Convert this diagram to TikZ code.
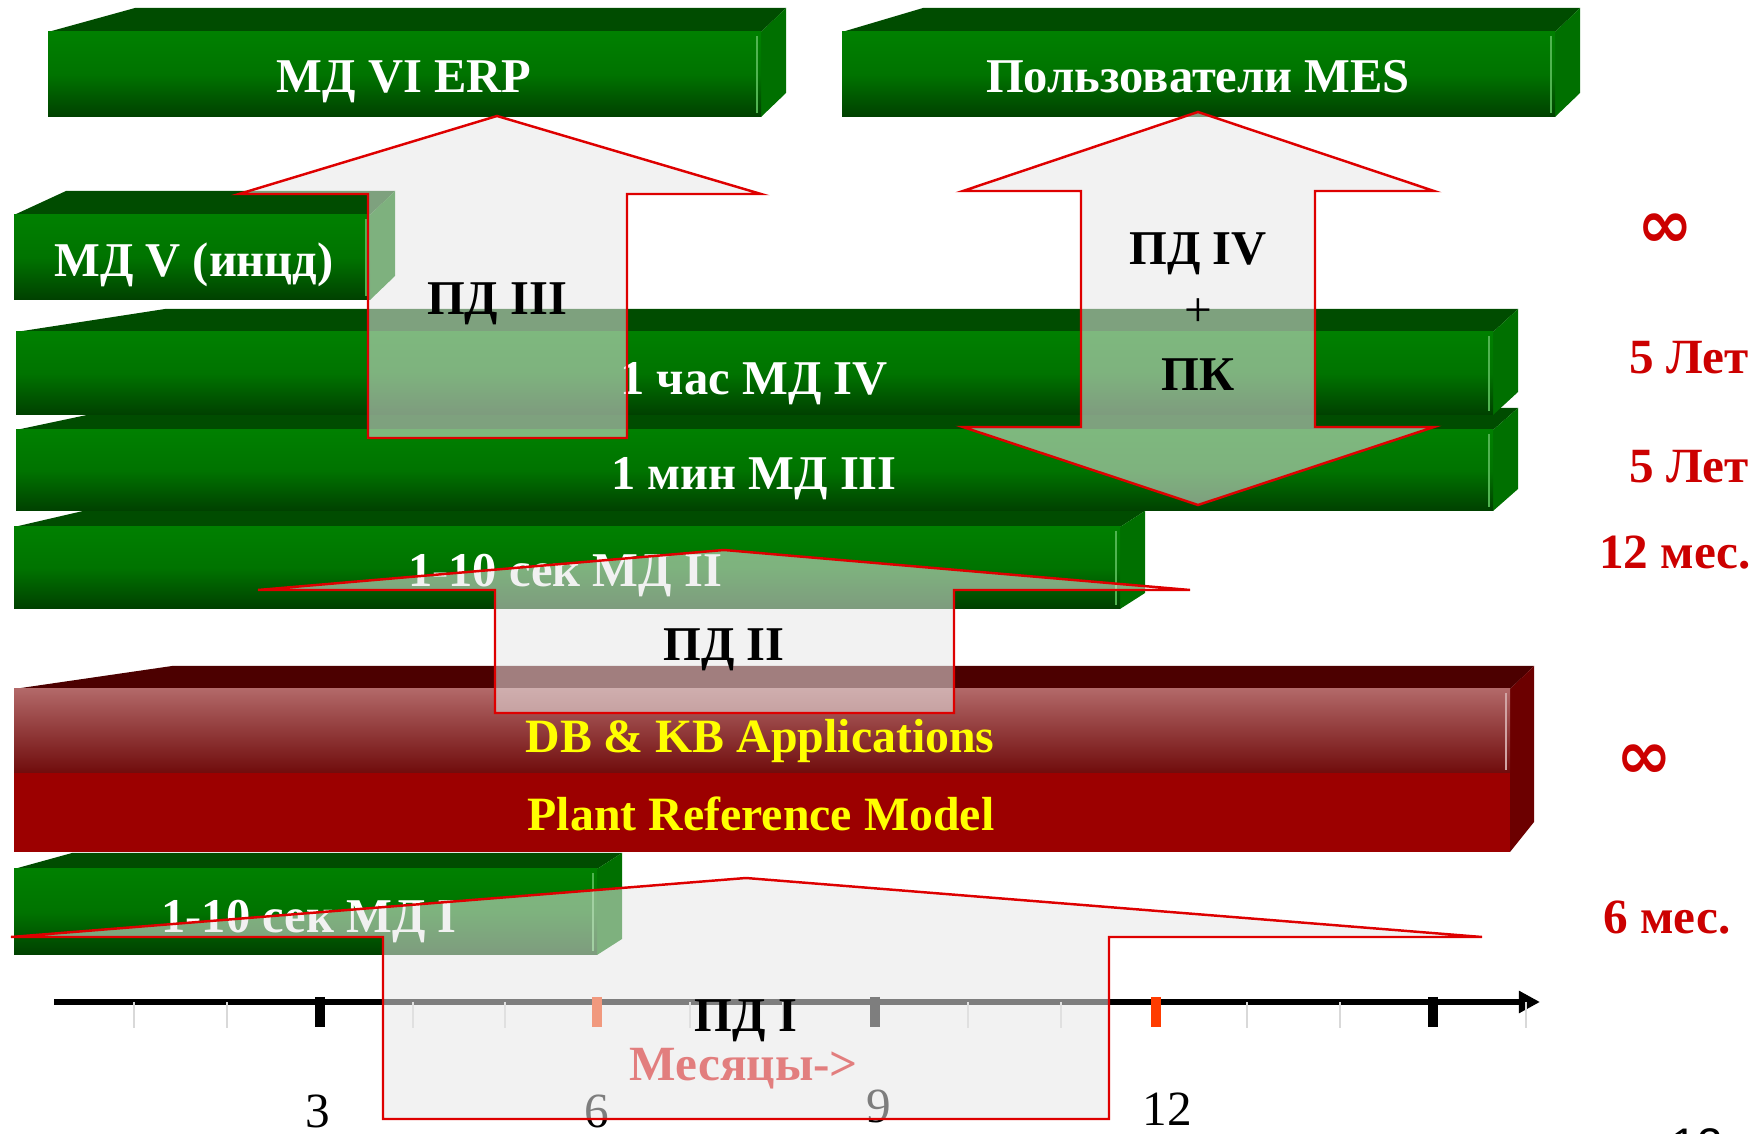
\documentclass[tikz,border=0pt]{standalone}
\usepackage{fontspec}
\setmainfont{Liberation Serif}
\newfontfamily\pagenum{Liberation Sans}
\newfontfamily\loopfont{DejaVu Sans}
\usetikzlibrary{arrows.meta}
\definecolor{leaf}{RGB}{0,128,0}
\definecolor{leafdk}{RGB}{0,64,0}
\definecolor{leaftop}{RGB}{0,76,0}
\definecolor{leafside}{RGB}{0,112,0}
\definecolor{leafhi}{RGB}{80,180,80}
\definecolor{brick}{RGB}{178,104,104}
\definecolor{brickdk}{RGB}{112,12,12}
\definecolor{brickmid}{RGB}{156,0,0}
\definecolor{bricktop}{RGB}{76,0,0}
\definecolor{brickside}{RGB}{108,0,0}
\definecolor{flow}{RGB}{231,231,231}
\definecolor{flowline}{RGB}{222,0,0}
\definecolor{keep}{RGB}{204,0,0}
\definecolor{lemon}{RGB}{255,255,0}
\definecolor{ember}{RGB}{255,60,0}
\tikzset{
  bartext/.style={text=white, font=\fontsize{13.8}{16}\selectfont\bfseries},
  lemontext/.style={text=lemon, font=\fontsize{13.6}{16}\selectfont\bfseries},
  flowtext/.style={text=black, font=\fontsize{13.8}{16}\selectfont\bfseries},
  keeptext/.style={text=keep, font=\fontsize{14}{16}\selectfont\bfseries},
  looptext/.style={text=keep, font=\loopfont\fontsize{19}{21}\selectfont\bfseries},
  monthtext/.style={text=black, font=\fontsize{14}{16}\selectfont},
  flowarrow/.style={fill=flow, fill opacity=.55, draw=flowline,
                    line width=.7pt, line join=miter},
}

\begin{document}
\begin{tikzpicture}[x=0.01cm, y=-0.01cm]
\useasboundingbox (0,0) rectangle (1760,1134);
% slab: x0, x1, front top, front bottom, back-left x, back y
\newcommand{\greenbar}[6]{%
  \fill[leaftop] (#1,#3) -- (#5,#6) -- (#2+25,#6) -- (#2,#3) -- cycle;
  \fill[leafside] (#2,#3) -- (#2+25,#6) -- (#2+25,#4-#3+#6) -- (#2,#4) -- cycle;
  \shade[top color=leaf, bottom color=leafdk, middle color=leaf!80!leafdk]
    (#1,#3) rectangle (#2,#4);
  \draw[leafhi, line width=.8pt] (#2-4,#3+4) -- (#2-4,#4-4);
}

% lowest slabs first, so each one hides the back of the one below
\greenbar{14}{597}{869}{955}{72}{853}
\node[bartext] (sec1) at (309,922) {1-10 сек МД I};

% red block: applications over the reference model
\fill[bricktop] (14,689) -- (172,666) -- (1534,666) -- (1510,689) -- cycle;
\fill[brickside] (1510,689) -- (1534,666) -- (1534,822) -- (1510,852) -- cycle;
\shade[top color=brick, bottom color=brickdk] (14,689) rectangle (1510,773);
\fill[brickmid] (14,773) rectangle (1510,852);
\draw[brick!60!white, line width=.8pt] (1506,693) -- (1506,770);
\node[lemontext] (dbkb) at (760,741) {DB \& KB Applications};
\node[lemontext] (prm) at (761,814) {Plant Reference Model};

\greenbar{14}{1120}{527}{609}{83}{511}
\node[bartext] (sec2) at (565,576) {1-10 сек МД II};
\greenbar{16}{1493}{430}{511}{120}{408}
\node[bartext] (min3) at (754,479) {1 мин МД III};
\greenbar{16}{1493}{332}{415}{165}{309}
\node[bartext] (hour4) at (754,384) {1 час МД IV};
\greenbar{14}{370}{215}{300}{66}{191}
\node[bartext] (inc5) at (194,265) {МД V (инцд)};
\greenbar{842}{1555}{32}{117}{923}{8}
\node[bartext] (mes) at (1198,77) {Пользователи MES};
\greenbar{48}{761}{32}{117}{135}{8}
\node[bartext] (erp) at (404,82) {МД VI ERP};

% time axis, months
\draw[line width=1.6pt, -{Triangle[length=6pt,width=6pt]}] (54,1002) -- (1540,1002);
\foreach \t in {134,227,413,505,690,783,968,1061,1247,1340,1526}
  \draw[black!15, line width=.3pt] (\t,1002) -- (\t,1028);
\draw[black, line width=3pt] (320,997) -- (320,1027);
\draw[ember, line width=3pt] (597,997) -- (597,1027);
\draw[black, line width=3pt] (875,997) -- (875,1027);
\draw[ember, line width=3pt] (1156,997) -- (1156,1027);
\draw[black, line width=3pt] (1433,997) -- (1433,1027);
\node[monthtext] (m3) at (318,1111) {3};
\node[monthtext] (m6) at (597,1111) {6};
\node[monthtext] (m9) at (879,1106) {9};
\node[monthtext] (m12) at (1167,1109) {12};
\node[text=flowline, font=\fontsize{14}{16}\selectfont\bfseries] (months)
  at (744,1069) {Месяцы->};

% transfer arrows, see-through
\draw[flowarrow] (497,116) -- (761,194) -- (627,194) -- (627,438)
  -- (368,438) -- (368,194) -- (239,194) -- cycle;
\draw[flowarrow] (1198,112) -- (1434,191) -- (1315,191) -- (1315,427)
  -- (1434,427) -- (1198,505) -- (963,427) -- (1081,427) -- (1081,191)
  -- (963,191) -- cycle;
\draw[flowarrow] (724,550) -- (1190,590) -- (954,590) -- (954,713)
  -- (495,713) -- (495,590) -- (258,590) -- cycle;
\draw[flowarrow] (746,878) -- (1482,937) -- (1109,937) -- (1109,1119)
  -- (383,1119) -- (383,937) -- (11,937) -- cycle;

\node[flowtext] (pd3) at (497,304) {ПД III};
\node[flowtext] (pd4) at (1198,254) {ПД IV};
\node[monthtext] (plus) at (1198,313) {+};
\node[flowtext] (pk) at (1198,375) {ПК};
\node[flowtext] (pd2) at (724,650) {ПД II};
\node[flowtext] (pd1) at (746,1021) {ПД I};

% how long each level is kept
\node[looptext] (keep6) at (1665,231) {∞};
\node[keeptext] (keep4) at (1689,358) {5 Лет};
\node[keeptext] (keep3) at (1689,467) {5 Лет};
\node[keeptext] (keep2) at (1675,553) {12 мес.};
\node[looptext] (keepdb) at (1644,762) {∞};
\node[keeptext] (keep1) at (1667,918) {6 мес.};

\node[anchor=north, font=\pagenum\fontsize{13}{15}\selectfont] (page) at (1697,1116) {12};
\end{tikzpicture}
\end{document}
